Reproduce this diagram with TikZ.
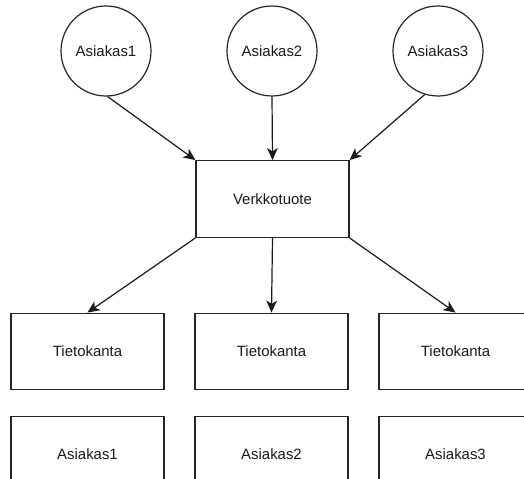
\documentclass[tikz,border=0pt]{standalone}
\usepackage{fontspec}
\setmainfont{Liberation Sans}
\usetikzlibrary{arrows.meta}
\begin{document}
\begin{tikzpicture}[x=0.75pt,y=-0.75pt,
  every node/.style={font=\fontsize{11.2pt}{13pt}\selectfont, text=black!90},
  client/.style={draw=black!85, line width=0.9pt, circle, minimum size=67.5pt, inner sep=0pt},
  box/.style={draw=black!85, line width=0.9pt, rectangle, minimum width=114.75pt, minimum height=57.5pt, inner sep=0pt},
  link/.style={draw=black!90, line width=0.9pt, -{Stealth[length=9pt,width=8pt,inset=2.5pt]}}]
  \useasboundingbox (0,0) rectangle (524,478);
  % clients
  \node[client] (c1) at (106,51) {Asiakas1};
  \node[client] (c2) at (272,51) {Asiakas2};
  \node[client] (c3) at (438,51) {Asiakas3};
  % web product
  \node[box] (v) at (272.5,199) {Verkkotuote};
  % databases
  \node[box] (t1) at (87.5,351.5) {Tietokanta};
  \node[box] (t2) at (271.5,351.5) {Tietokanta};
  \node[box] (t3) at (455.5,351.5) {Tietokanta};
  % client boxes, partly outside the page
  \node[box] (a1) at (87.5,454.5) {Asiakas1};
  \node[box] (a2) at (271.5,454.5) {Asiakas2};
  \node[box] (a3) at (455.5,454.5) {Asiakas3};
  % connectors
  \draw[link] (c1.-88) -- (v.north west);
  \draw[link] (c2.south) -- (v.north);
  \draw[link] (c3.-107) -- (v.north east);
  \draw[link] (v.south west) -- (t1.north);
  \draw[link] (v.south) -- (t2.north);
  \draw[link] (v.south east) -- (t3.north);
\end{tikzpicture}
\end{document}
